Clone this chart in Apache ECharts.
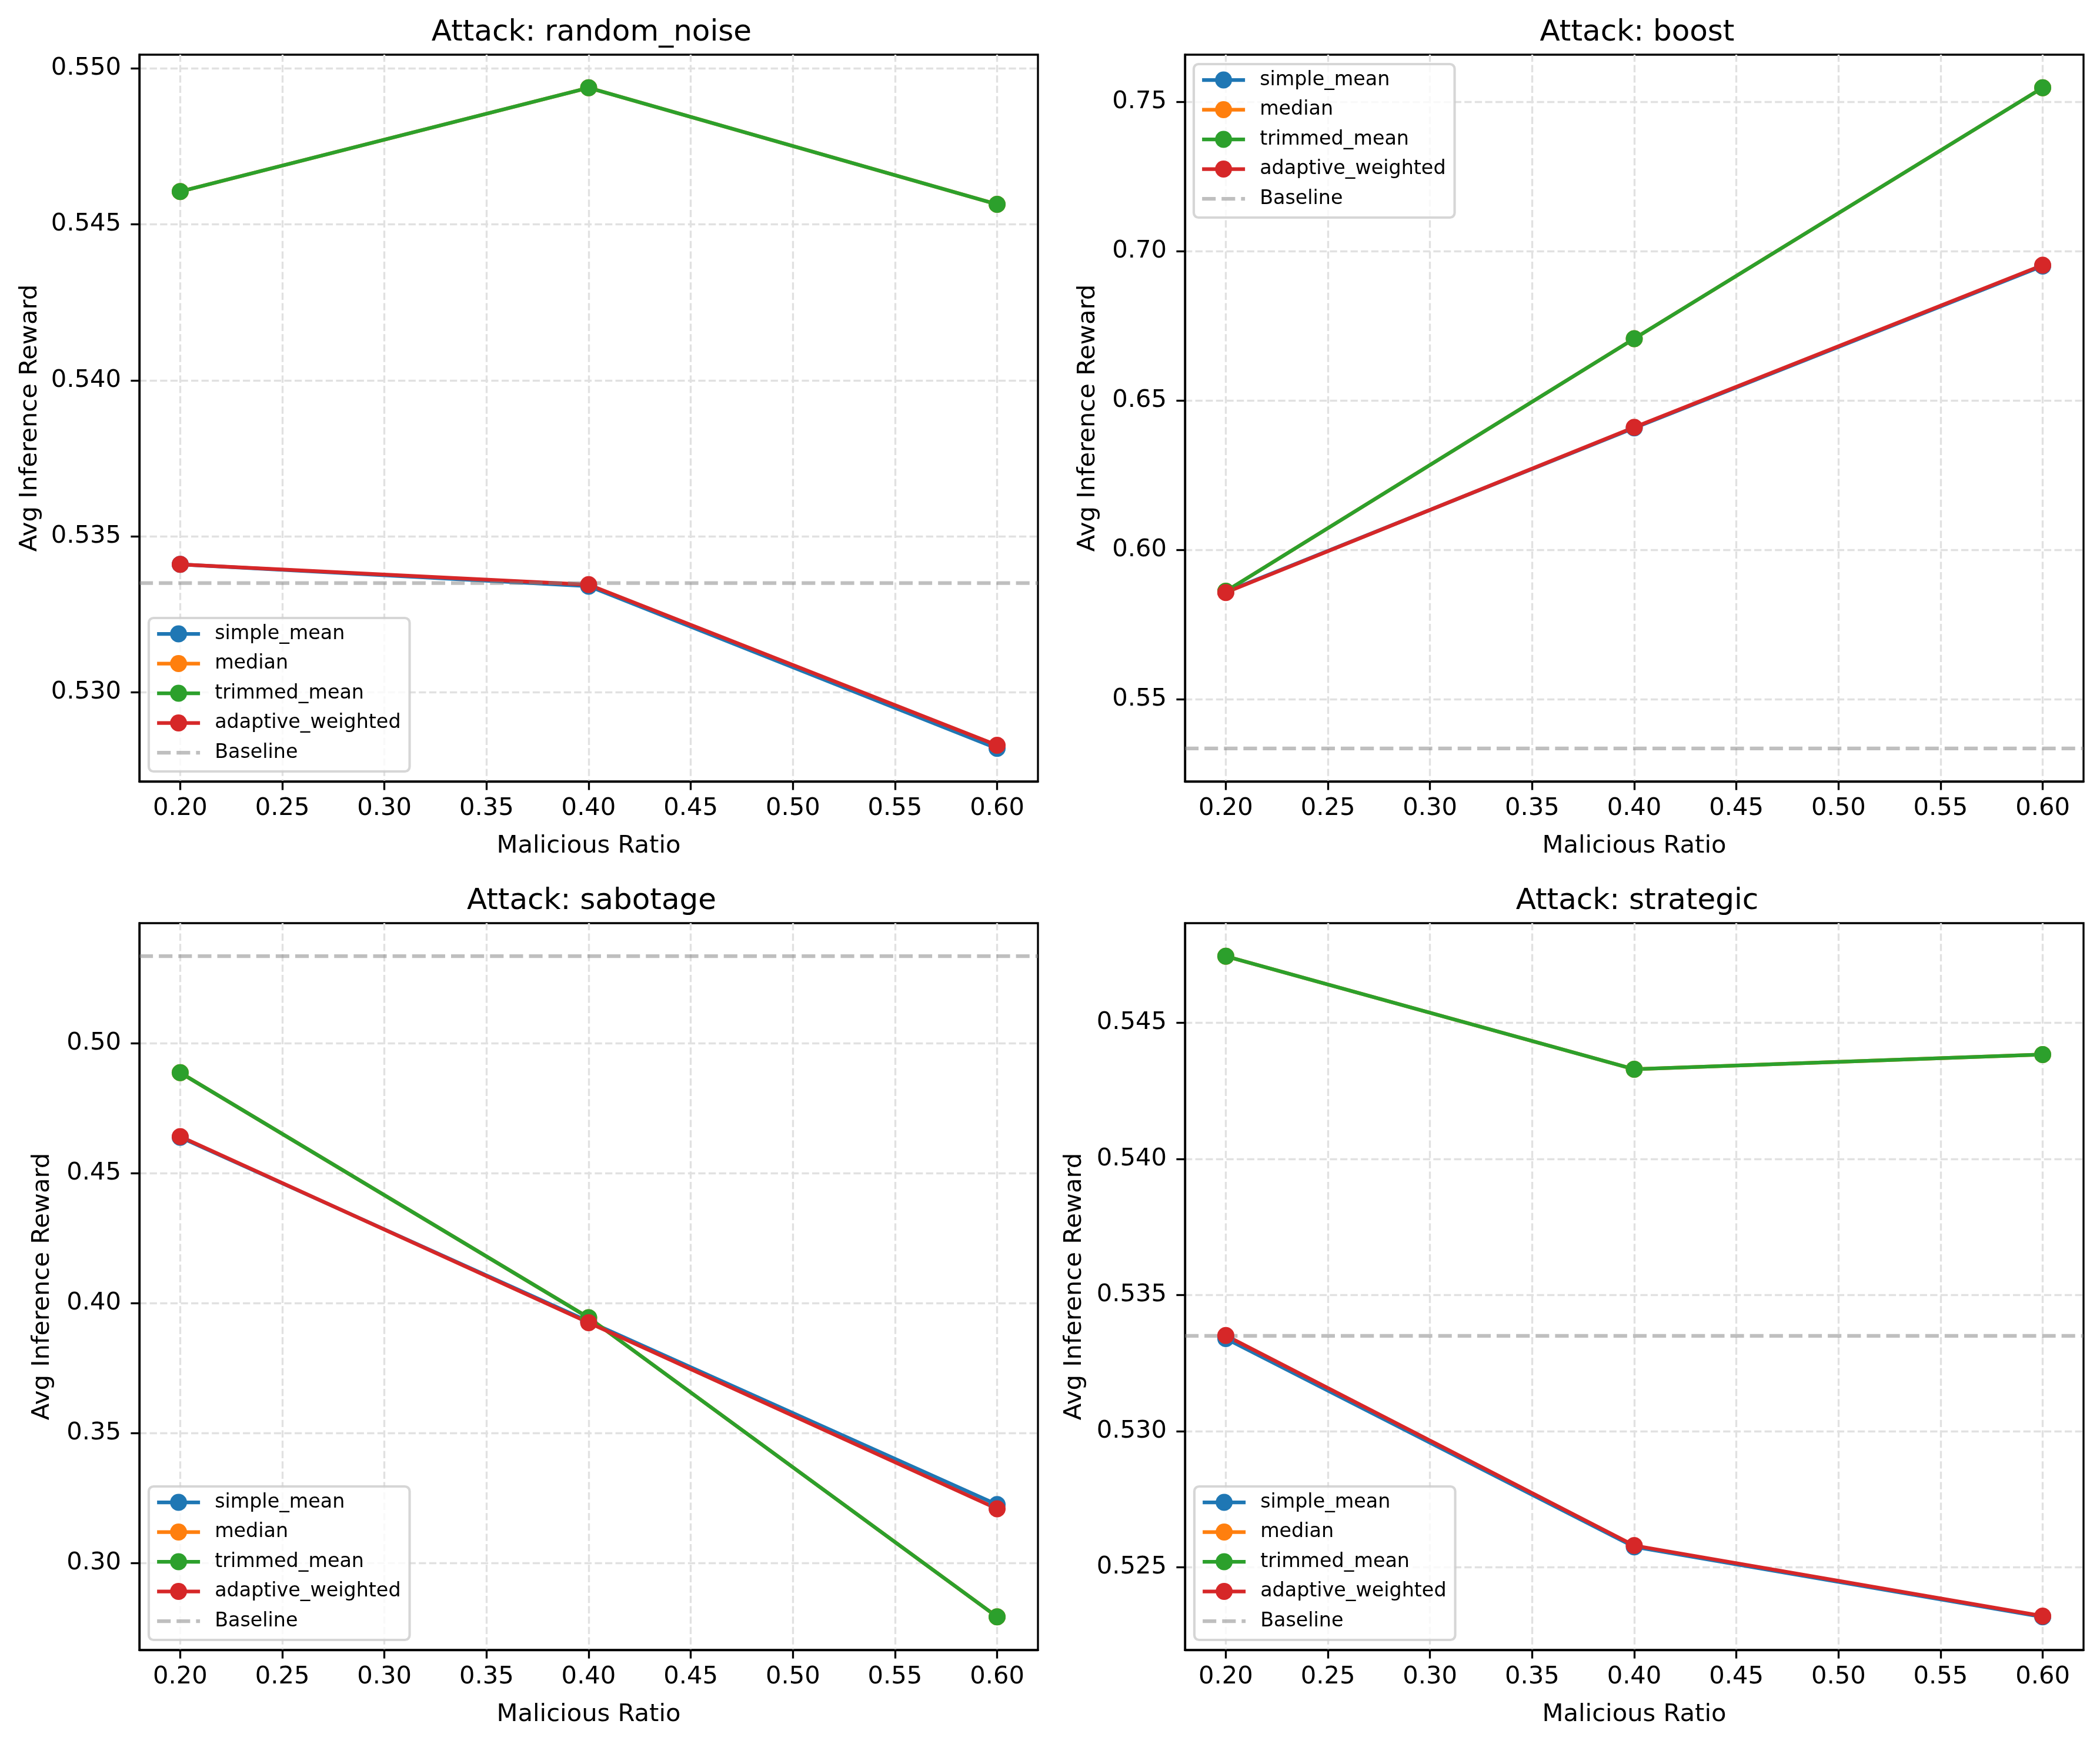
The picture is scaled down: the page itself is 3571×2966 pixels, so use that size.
<!DOCTYPE html>
<html>
<head>
<meta charset="utf-8">
<script src="https://cdn.jsdelivr.net/npm/echarts@6/dist/echarts.min.js"></script>
<style>
html,body{margin:0;padding:0;background:#ffffff;}
#c{width:3571px;height:2966px;}
</style>
</head>
<body>
<div id="c"></div>
<script>
// ---------------- DATA ----------------
const ratios = [0.2, 0.4, 0.6];
const xTicks = [0.20, 0.25, 0.30, 0.35, 0.40, 0.45, 0.50, 0.55, 0.60];
const methods = ['simple_mean', 'median', 'trimmed_mean', 'adaptive_weighted'];
const baselineName = 'Baseline';
const baselineValue = 0.5335;

const titles = ['Attack: random_noise', 'Attack: boost', 'Attack: sabotage', 'Attack: strategic'];

// random_noise
const randomNoiseSimple   = [0.5341, 0.5334, 0.5282];
const randomNoiseMedian   = [0.54605, 0.54938, 0.54564];
const randomNoiseTrimmed  = [0.54605, 0.54938, 0.54564];
const randomNoiseAdaptive = [0.5341, 0.53345, 0.5283];
const randomNoiseTicks    = [0.530, 0.535, 0.540, 0.545, 0.550];

// boost
const boostSimple   = [0.5859, 0.6408, 0.6950];
const boostMedian   = [0.5861, 0.6707, 0.7547];
const boostTrimmed  = [0.5861, 0.6707, 0.7547];
const boostAdaptive = [0.5857, 0.6410, 0.6953];
const boostTicks    = [0.55, 0.60, 0.65, 0.70, 0.75];

// sabotage
const sabotageSimple   = [0.4638, 0.3930, 0.3225];
const sabotageMedian   = [0.4887, 0.3944, 0.2793];
const sabotageTrimmed  = [0.4887, 0.3944, 0.2793];
const sabotageAdaptive = [0.4641, 0.3925, 0.3209];
const sabotageTicks    = [0.30, 0.35, 0.40, 0.45, 0.50];

// strategic
const strategicSimple   = [0.5334, 0.52575, 0.52318];
const strategicMedian   = [0.54744, 0.54329, 0.54383];
const strategicTrimmed  = [0.54744, 0.54329, 0.54383];
const strategicAdaptive = [0.53351, 0.5258, 0.52321];
const strategicTicks    = [0.525, 0.530, 0.535, 0.540, 0.545];

// ---------------- STYLE / LAYOUT ----------------
const PT = 300 / 72;
const FONT = 'DejaVu Sans';
const colors = ['#1f77b4', '#ff7f0e', '#2ca02c', '#d62728'];
const baselineColor = 'rgba(128,128,128,0.5)';
const LW = 1.5 * PT;
const gridW = 1528, gridH = 1236;
const baselineDash = [3.7 * LW, 1.6 * LW];

const panels = [
  { vals: [randomNoiseSimple, randomNoiseMedian, randomNoiseTrimmed, randomNoiseAdaptive], ticks: randomNoiseTicks, dec: 3,
    gl: 237, gt: 93, legend: { left: 253, bottom: 1654 }, nameGap: 165 },
  { vals: [boostSimple, boostMedian, boostTrimmed, boostAdaptive], ticks: boostTicks, dec: 2,
    gl: 2015, gt: 93, legend: { left: 2030, top: 109 }, nameGap: 144 },
  { vals: [sabotageSimple, sabotageMedian, sabotageTrimmed, sabotageAdaptive], ticks: sabotageTicks, dec: 2,
    gl: 237, gt: 1570, legend: { left: 253, bottom: 177 }, nameGap: 144 },
  { vals: [strategicSimple, strategicMedian, strategicTrimmed, strategicAdaptive], ticks: strategicTicks, dec: 3,
    gl: 2015, gt: 1570, legend: { left: 2031, bottom: 177 }, nameGap: 167 }
];

// matplotlib-like 5% margins
const xMin = Math.min(...ratios) - 0.05 * (Math.max(...ratios) - Math.min(...ratios));
const xMax = Math.max(...ratios) + 0.05 * (Math.max(...ratios) - Math.min(...ratios));

const grid = [], xAxis = [], yAxis = [], series = [], title = [], legend = [];

const axisText = { fontFamily: FONT, fontSize: 10 * PT, color: '#000', lineHeight: 42 };

panels.forEach((p, i) => {
  const all = [].concat(...p.vals, [baselineValue]);
  const lo = Math.min(...all), hi = Math.max(...all);
  const yMin = lo - 0.05 * (hi - lo), yMax = hi + 0.05 * (hi - lo);

  grid.push({ left: p.gl, top: p.gt, width: gridW, height: gridH, show: true,
    borderColor: '#000', borderWidth: 0.8 * PT, backgroundColor: '#fff' });

  title.push({ text: titles[i], left: p.gl + gridW / 2, top: p.gt - 67, textAlign: 'center',
    textStyle: { fontFamily: FONT, fontSize: 12 * PT, fontWeight: 'normal', color: '#000', lineHeight: 50 } });

  xAxis.push({ type: 'value', gridIndex: i, min: xMin, max: xMax,
    name: 'Malicious Ratio', nameLocation: 'middle', nameGap: 89,
    nameTextStyle: Object.assign({}, axisText),
    axisLine: { show: true, onZero: false, lineStyle: { color: '#000', width: 0.8 * PT } },
    axisTick: { show: true, inside: false, length: 3.5 * PT, lineStyle: { color: '#000', width: 0.8 * PT }, customValues: xTicks },
    axisLabel: Object.assign({ margin: 25, customValues: xTicks, formatter: v => v.toFixed(2) }, axisText),
    splitLine: { show: true, lineStyle: { color: '#e1e1e1', width: 0.8 * PT, type: [12.3, 5.3] } }
  });

  yAxis.push({ type: 'value', gridIndex: i, min: yMin, max: yMax,
    name: 'Avg Inference Reward', nameLocation: 'middle', nameGap: p.nameGap, nameRotate: 90,
    nameTextStyle: Object.assign({}, axisText),
    axisLine: { show: true, onZero: false, lineStyle: { color: '#000', width: 0.8 * PT } },
    axisTick: { show: true, inside: false, length: 3.5 * PT, lineStyle: { color: '#000', width: 0.8 * PT }, customValues: p.ticks },
    axisLabel: Object.assign({ margin: 31, customValues: p.ticks, formatter: v => v.toFixed(p.dec) }, axisText),
    splitLine: { show: true, lineStyle: { color: '#e1e1e1', width: 0.8 * PT, type: [12.3, 5.3] } }
  });

  methods.forEach((m, j) => {
    series.push({ type: 'line', name: m, xAxisIndex: i, yAxisIndex: i,
      data: ratios.map((x, k) => [x, p.vals[j][k]]),
      symbol: 'circle', symbolSize: 29, showSymbol: true,
      color: colors[j],
      lineStyle: { color: colors[j], width: LW, join: 'round' },
      itemStyle: { color: colors[j] },
      emphasis: { disabled: true }, silent: true, animation: false });
  });
  series.push({ type: 'line', name: baselineName, xAxisIndex: i, yAxisIndex: i,
    data: [[xMin, baselineValue], [xMax, baselineValue]],
    symbol: 'none', color: baselineColor,
    lineStyle: { color: baselineColor, width: LW, type: baselineDash },
    itemStyle: { color: baselineColor },
    emphasis: { disabled: true }, silent: true, animation: false });

  legend.push(Object.assign({
    orient: 'vertical',
    data: methods.map(m => ({ name: m })).concat([{ name: baselineName, itemStyle: { opacity: 0 },
      lineStyle: { type: baselineDash, color: baselineColor, width: LW } }]),
    itemWidth: 73, itemHeight: 36, itemGap: 14.5,
    padding: [9, 15, 14, 11],
    backgroundColor: 'rgba(255,255,255,0.8)',
    borderColor: 'rgba(204,204,204,0.8)', borderWidth: 1 * PT, borderRadius: 8,
    lineStyle: { width: LW },
    textStyle: { fontFamily: FONT, fontSize: 8 * PT, color: '#000', lineHeight: 36, padding: [0, 0, 0, 20] },
    selectedMode: false
  }, p.legend));
});

const chart = echarts.init(document.getElementById('c'), null, { renderer: 'canvas', width: 3571, height: 2966 });
chart.setOption({
  backgroundColor: '#ffffff',
  animation: false,
  title, grid, xAxis, yAxis, series, legend
});
</script>
</body>
</html>
